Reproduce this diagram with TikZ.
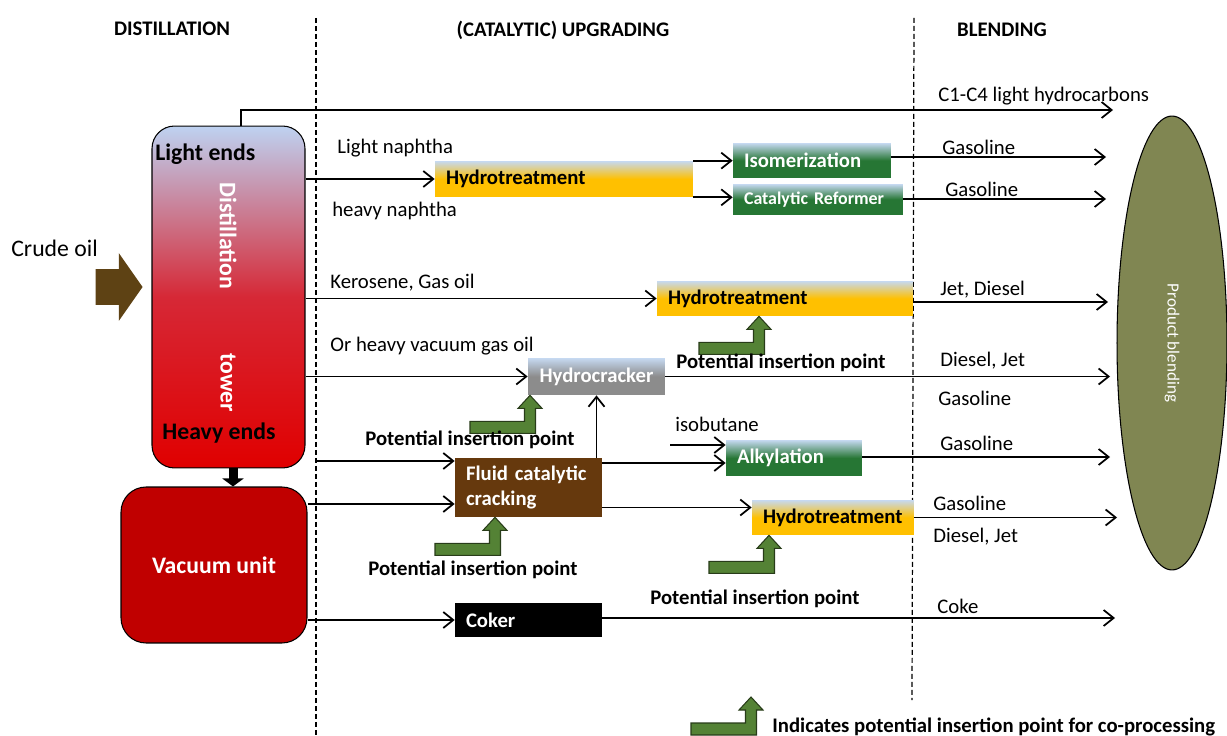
\documentclass[tikz,border=0pt]{standalone}
\usepackage{fontspec}
\setmainfont{Carlito}
\usepackage{tikz}
\usetikzlibrary{positioning,shapes,arrows.meta,calc}
\definecolor{crudebrown}{RGB}{94,66,20}
\definecolor{towerblue}{RGB}{190,210,241}
\definecolor{towermid}{RGB}{214,40,54}
\definecolor{towerred}{RGB}{224,0,0}
\definecolor{vacred}{RGB}{192,0,0}
\definecolor{boxblue}{RGB}{198,217,241}
\definecolor{hydgold}{RGB}{255,192,0}
\definecolor{procgreen}{RGB}{38,118,52}
\definecolor{crackgray}{RGB}{140,140,140}
\definecolor{fccbrown}{RGB}{102,57,13}
\definecolor{insgreen}{RGB}{84,130,53}
\definecolor{insdark}{RGB}{40,60,25}
\definecolor{blendolive}{RGB}{128,134,82}

\begin{document}
\begin{tikzpicture}[x=0.02cm, y=-0.02cm,
    font=\fontsize{11.8}{14}\selectfont,
    flow/.style={-{Straight Barb[length=2mm,width=3.2mm]}, line width=1pt},
    unitbox/.style={rectangle, inner xsep=0.22cm, inner ysep=0pt, align=left, text=white,
        font=\fontsize{11.8}{14}\selectfont\bfseries},
    lbl/.style={anchor=west, inner sep=0pt},
    blbl/.style={lbl, font=\fontsize{11.8}{14}\selectfont\bfseries},
    towerlbl/.style={inner sep=0pt, font=\fontsize{13.5}{16}\selectfont\bfseries},
    sep/.style={dash pattern=on 0.1cm off 0.06cm, line width=0.7pt},
    insarrow/.pic={
        \filldraw[fill=insgreen, draw=insdark, line width=0.6pt]
            (0,0) -- (12,13) -- (5.5,13) -- (5.5,38) -- (-60,38) -- (-60,26)
            -- (-5.5,26) -- (-5.5,13) -- (-12,13) -- cycle;
    }]
    \useasboundingbox (0,0) rectangle (1227,736);

    % stage headings and separators
    \node[font=\fontsize{11.8}{14}\selectfont\bfseries] (hdist) at (172,29) {DISTILLATION};
    \node[font=\fontsize{11.8}{14}\selectfont\bfseries] (hupg) at (563,30) {(CATALYTIC) UPGRADING};
    \node[font=\fontsize{11.8}{14}\selectfont\bfseries] (hblend) at (1002,30) {BLENDING};
    \draw[sep] (316,18) -- (316,736);
    \draw[sep] (914,18) -- (912,700);

    % distillation side
    \node[draw, line width=0.6pt, rounded corners=0.45cm, minimum width=3.06cm, minimum height=6.84cm,
        top color=towerblue, bottom color=towerred, middle color=towermid] (tower) at (228.5,297) {};
    \node[towerlbl, anchor=west] (light) at (155,154) {Light ends};
    \node[towerlbl, text=white, rotate=-90] (towerA) at (228,236) {Distillation};
    \node[towerlbl, text=white, rotate=-90] (towerB) at (228,383) {tower};
    \node[towerlbl, anchor=west] (heavy) at (162,433) {Heavy ends};
    \node[draw, line width=0.6pt, fill=vacred, rounded corners=0.5cm, minimum width=3.72cm, minimum height=3.12cm,
        text=white, font=\fontsize{13.5}{16}\selectfont\bfseries] (vacuum) at (214,565) {Vacuum unit};
    \node[lbl, font=\fontsize{13.5}{16}\selectfont] (crude) at (11,248) {Crude oil};
    \node[single arrow, fill=crudebrown, inner xsep=0pt, inner ysep=0.35cm, minimum height=0.94cm,
        single arrow head extend=0.32cm, single arrow tip angle=110, anchor=tip] (feed) at (143,287) {};
    \draw[line width=0.18cm, -{Triangle[length=0.16cm,width=0.42cm]}]
        ([xshift=0.09cm]tower.south) -- ([xshift=0.09cm]tower.south |- vacuum.north);

    % upgrading units
    \node[unitbox, text=black, text width=4.72cm, minimum height=0.72cm,
        top color=boxblue, bottom color=hydgold, middle color=hydgold] (hydA) at (564,179) {Hydrotreatment};
    \node[unitbox, text width=2.72cm, minimum height=0.70cm,
        top color=boxblue, bottom color=procgreen, middle color=procgreen] (isom) at (812,160.5) {Isomerization};
    \node[unitbox, text width=2.96cm, minimum height=0.62cm, font=\fontsize{10.2}{12}\selectfont\bfseries,
        top color=boxblue, bottom color=procgreen, middle color=procgreen] (reform) at (818,199.5) {Catalytic Reformer};
    \node[unitbox, text=black, text width=4.68cm, minimum height=0.70cm,
        top color=boxblue, bottom color=hydgold, middle color=hydgold] (hydB) at (785,298.5) {Hydrotreatment};
    \node[unitbox, align=center, text width=2.30cm, minimum height=0.74cm,
        top color=boxblue, bottom color=crackgray, middle color=crackgray] (cracker) at (596.5,376.5) {Hydrocracker};
    \node[unitbox, text width=2.50cm, minimum height=1.18cm, fill=fccbrown] (fcc) at (528.5,487.5) {Fluid catalytic\\cracking};
    \node[unitbox, text width=2.28cm, minimum height=0.72cm,
        top color=boxblue, bottom color=procgreen, middle color=procgreen] (alky) at (794,458) {Alkylation};
    \node[unitbox, text=black, text width=2.80cm, minimum height=0.70cm,
        top color=boxblue, bottom color=hydgold, middle color=hydgold] (hydC) at (833,517.5) {Hydrotreatment};
    \node[unitbox, text width=2.50cm, minimum height=0.68cm, fill=black] (coker) at (528.5,620) {Coker};

    % blending
    \node[ellipse, draw, line width=0.6pt, fill=blendolive, minimum width=9.08cm, minimum height=2.2cm, rotate=-90,
        inner sep=0pt, text=white, font=\fontsize{9.7}{12}\selectfont] (blend) at (1172,343) {Product blending};

    % stream labels
    \node[lbl] (lnaph) at (337,148) {Light naphtha};
    \node[lbl] (hnaph) at (332,211) {heavy naphtha};
    \node[lbl] (kero) at (330,283) {Kerosene, Gas oil};
    \node[lbl] (hvgo) at (330,346) {Or heavy vacuum gas oil};
    \node[lbl] (isob) at (675,424) {isobutane};
    \node[lbl] (pC1) at (938,96) {C1-C4 light hydrocarbons};
    \node[lbl] (pGa) at (942,147) {Gasoline};
    \node[lbl] (pGb) at (945,189) {Gasoline};
    \node[lbl] (pJD) at (940,290) {Jet, Diesel};
    \node[lbl] (pDJa) at (940,361) {Diesel, Jet};
    \node[lbl] (pGc) at (938,398) {Gasoline};
    \node[lbl] (pGd) at (940,443) {Gasoline};
    \node[lbl] (pGe) at (933,503) {Gasoline};
    \node[lbl] (pDJb) at (933,537) {Diesel, Jet};
    \node[lbl] (pCoke) at (937,606) {Coke};

    % product ends and free starts
    \coordinate (outC1) at (1113,110);
    \coordinate (outA) at (1106,157);
    \coordinate (outB) at (1106,199);
    \coordinate (outD) at (1108,302);
    \coordinate (outE) at (1110,376);
    \coordinate (outF) at (1110,457);
    \coordinate (outG) at (1117,518);
    \coordinate (outH) at (1115,618);
    \coordinate (fccin) at (316,461);
    \coordinate (isoin) at (670,445);

    % flows
    \draw[flow] ([xshift=0.25cm]tower.north) |- (outC1);
    \draw[flow] (tower.east |- hydA) -- (hydA.west);
    \draw[flow] (hydA.north east) -- (hydA.north east -| isom.west);
    \draw[flow] (hydA.south east) -- (hydA.south east -| reform.west);
    \draw[flow] (isom.east |- outA) -- (outA);
    \draw[flow] (reform.east |- outB) -- (outB);
    \draw[flow] (tower.east |- hydB) -- (hydB.west);
    \draw[flow] (hydB.east |- outD) -- (outD);
    \draw[flow] (tower.east |- cracker) -- (cracker.west);
    \draw[flow] (cracker.east) -- (cracker.east -| outE);
    \draw[flow] (cracker.south |- fcc.north) -- (cracker.south);
    \draw[flow] (fccin) -- (fccin -| fcc.west);
    \draw[flow] ([yshift=1.22cm]vacuum.east) -- ([yshift=1.22cm]vacuum.east -| fcc.west);
    \draw[flow] ([yshift=0.49cm]fcc.east) -- ([yshift=0.49cm]fcc.east -| alky.west);
    \draw[flow] (isoin) -- (isoin -| alky.west);
    \draw[flow] (alky.east |- outF) -- (outF);
    \draw[flow] ([yshift=-0.4cm]fcc.east) -- ([yshift=-0.4cm]fcc.east -| hydC.west);
    \draw[flow] (hydC.east) -- (hydC.east -| outG);
    \draw[flow] (vacuum.east |- coker) -- (coker.west);
    \draw[flow] (coker.east |- outH) -- (outH);

    % insertion points
    \pic at ([xshift=-0.52cm]hydB.south) {insarrow};
    \node[blbl] (insB) at (676,363) {Potential insertion point};
    \pic at ([xshift=-1.33cm]cracker.south) {insarrow};
    \node[blbl] (insCr) at (365,440) {Potential insertion point};
    \pic at ([xshift=-0.67cm]fcc.south) {insarrow};
    \node[blbl] (insF) at (368,570) {Potential insertion point};
    \pic at ([xshift=-1.28cm]hydC.south) {insarrow};
    \node[blbl] (insC) at (650,599) {Potential insertion point};
    \pic at (751,697) {insarrow};
    \node[blbl] (legend) at (772,727) {Indicates potential insertion point for co-processing};
\end{tikzpicture}
\end{document}
